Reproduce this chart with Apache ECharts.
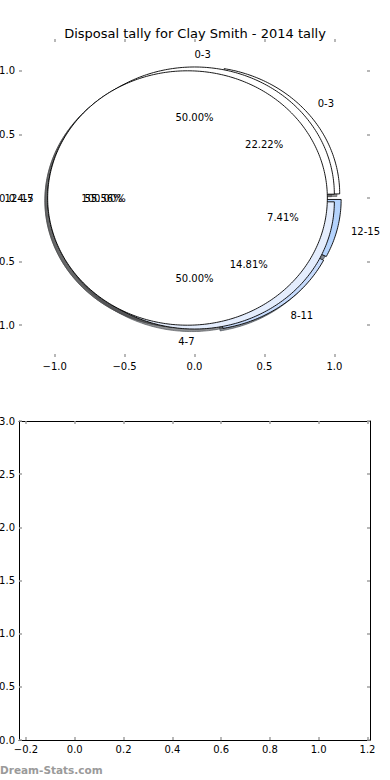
<!DOCTYPE html>
<html>
<head>
<meta charset="utf-8">
<script src="https://cdn.jsdelivr.net/npm/echarts@6/dist/echarts.min.js"></script>
<style>html,body{margin:0;padding:0;background:#fff;}#chart{width:390px;height:780px;}</style>
</head>
<body>
<div id="chart"></div>
<script>
// ---- data ----
const chartTitle = 'Disposal tally for Clay Smith - 2014 tally';
const watermark = 'Dream-Stats.com';
const outerLabels = ['0-3', '4-7', '8-11', '12-15'];
const outerValues = [6, 15, 4, 2];
const innerLabels = ['0-3', '4-7'];
const innerValues = [1, 1];
const totalLabels = ['12-15'];
const totalValues = [1];
const pieXTicks = [-1.0, -0.5, 0.0, 0.5, 1.0];
const pieYTicks = [-1.0, -0.5, 0.0, 0.5, 1.0];
const emptyXTicks = [-0.2, 0.0, 0.2, 0.4, 0.6, 0.8, 1.0, 1.2];
const emptyYTicks = [0.0, 0.5, 1.0, 1.5, 2.0, 2.5, 3.0];

// ---- styles ----
const FONT = 'DejaVu Sans';
const catColors = {'0-3': '#ffffff', '4-7': '#e4edfd', '8-11': '#c6dbfd', '12-15': '#b4d3fd'};
const TICK = '#a0a0a0';

function buildWedges(values, labels, colorOf, explode) {
  const total = values.reduce((a, b) => a + b, 0);
  let cum = 0;
  return values.map((v, i) => {
    const t1 = 360 * cum / total; cum += v; const t2 = 360 * cum / total;
    const mid = (t1 + t2) / 2 * Math.PI / 180;
    return {
      t1, t2, mid,
      cx: explode * Math.cos(mid), cy: explode * Math.sin(mid),
      label: labels[i], pct: (100 * v / total).toFixed(2) + '%',
      color: colorOf(labels[i])
    };
  });
}
const wedges = [].concat(
  buildWedges(outerValues, outerLabels, l => catColors[l], 0.05),
  buildWedges(innerValues, innerLabels, l => catColors[l], 0.03),
  buildWedges(totalValues, totalLabels, l => '#ffffff', 0.05)
);

function hexRgb(h) { return [parseInt(h.slice(1,3),16), parseInt(h.slice(3,5),16), parseInt(h.slice(5,7),16)]; }

function wedgePoints(w, api, dx, dy) {
  const pts = [];
  const full = Math.abs(w.t2 - w.t1 - 360) < 1e-9;
  if (!full) pts.push(api.coord([w.cx + dx, w.cy + dy]));
  const n = Math.max(2, Math.ceil(w.t2 - w.t1));
  for (let k = 0; k <= n; k++) {
    const a = (w.t1 + (w.t2 - w.t1) * k / n) * Math.PI / 180;
    pts.push(api.coord([w.cx + dx + Math.cos(a), w.cy + dy + Math.sin(a)]));
  }
  return pts;
}

const wedgeData = wedges.map((w, i) => [w.cx, w.cy, i]);

const fmt = v => (v < 0 ? '\u2212' : '') + Math.abs(v).toFixed(1);

function valueAxis(grid, pos, min, max, ticks, showLabel, showLine) {
  return {
    type: 'value', gridIndex: grid, position: pos, min, max,
    axisLine: {show: showLine, onZero: false, lineStyle: {color: '#000', width: 1}},
    axisTick: {show: true, inside: true, length: 3, customValues: ticks, lineStyle: {color: TICK, width: 1.5}},
    axisLabel: {show: showLabel, customValues: ticks, formatter: fmt, margin: 4, color: '#000', fontFamily: FONT, fontSize: 10, hideOverlap: false},
    splitLine: {show: false}
  };
}

const chart = echarts.init(document.getElementById('chart'), null, {renderer: 'svg'});
chart.setOption({
  animation: false,
  backgroundColor: '#fff',
  title: {text: chartTitle, left: 'center', top: 22, textStyle: {fontFamily: FONT, fontSize: 13, fontWeight: 'normal', color: '#000'}},
  graphic: [{type: 'text', left: 0, top: 764, style: {text: watermark, fontFamily: FONT, fontSize: 10.5, fontWeight: 'bold', fill: '#9a9a9a'}}],
  grid: [
    {left: 19, top: 39, width: 351, height: 318, outerBoundsMode: 'none', containLabel: false},
    {left: 19, top: 421, width: 351, height: 319, outerBoundsMode: 'none', containLabel: false}
  ],
  xAxis: [
    valueAxis(0, 'bottom', -1.255, 1.255, pieXTicks, true, false),
    valueAxis(0, 'top', -1.255, 1.255, pieXTicks, false, false),
    valueAxis(1, 'bottom', -0.2287, 1.2103, emptyXTicks, true, true),
    valueAxis(1, 'top', -0.2287, 1.2103, emptyXTicks, false, true)
  ],
  yAxis: [
    valueAxis(0, 'left', -1.25, 1.25, pieYTicks, true, false),
    valueAxis(0, 'right', -1.25, 1.25, pieYTicks, false, false),
    valueAxis(1, 'left', 0, 3, emptyYTicks, true, true),
    valueAxis(1, 'right', 0, 3, emptyYTicks, false, true)
  ],
  series: [
    {
      type: 'custom', xAxisIndex: 0, yAxisIndex: 0, clip: false, z: 1, silent: true,
      data: wedgeData, encode: {x: 0, y: 1},
      renderItem: (params, api) => {
        const w = wedges[params.dataIndex];
        const c = hexRgb(w.color).map(v => Math.round(v * 0.3));
        const col = 'rgba(' + c.join(',') + ',0.6)';
        return {type: 'polygon', shape: {points: wedgePoints(w, api, -0.02, -0.02)},
          style: {fill: col, stroke: col, lineWidth: 1}};
      }
    },
    {
      type: 'custom', xAxisIndex: 0, yAxisIndex: 0, clip: false, z: 2, silent: true,
      data: wedgeData, encode: {x: 0, y: 1},
      renderItem: (params, api) => {
        const w = wedges[params.dataIndex];
        return {type: 'polygon', shape: {points: wedgePoints(w, api, 0, 0)},
          style: {fill: w.color, stroke: '#000', lineWidth: 0.9, lineJoin: 'round'}};
      }
    },
    {
      type: 'custom', xAxisIndex: 0, yAxisIndex: 0, clip: false, z: 3, silent: true,
      data: wedgeData, encode: {x: 0, y: 1},
      renderItem: (params, api) => {
        const w = wedges[params.dataIndex];
        const lx = w.cx + 1.1 * Math.cos(w.mid), ly = w.cy + 1.1 * Math.sin(w.mid);
        const px = w.cx + 0.6 * Math.cos(w.mid), py = w.cy + 0.6 * Math.sin(w.mid);
        const lp = api.coord([lx, ly]), pp = api.coord([px, py]);
        return {type: 'group', children: [
          {type: 'text', style: {text: w.label, x: lp[0], y: lp[1], textAlign: lx > 0 ? 'left' : 'right', textVerticalAlign: 'middle', fontFamily: FONT, fontSize: 10, fill: '#000'}},
          {type: 'text', style: {text: w.pct, x: pp[0], y: pp[1], textAlign: 'center', textVerticalAlign: 'middle', fontFamily: FONT, fontSize: 10, fill: '#000'}}
        ]};
      }
    },
    {type: 'line', xAxisIndex: 2, yAxisIndex: 2, data: [], silent: true}
  ]
});
</script>
</body>
</html>
